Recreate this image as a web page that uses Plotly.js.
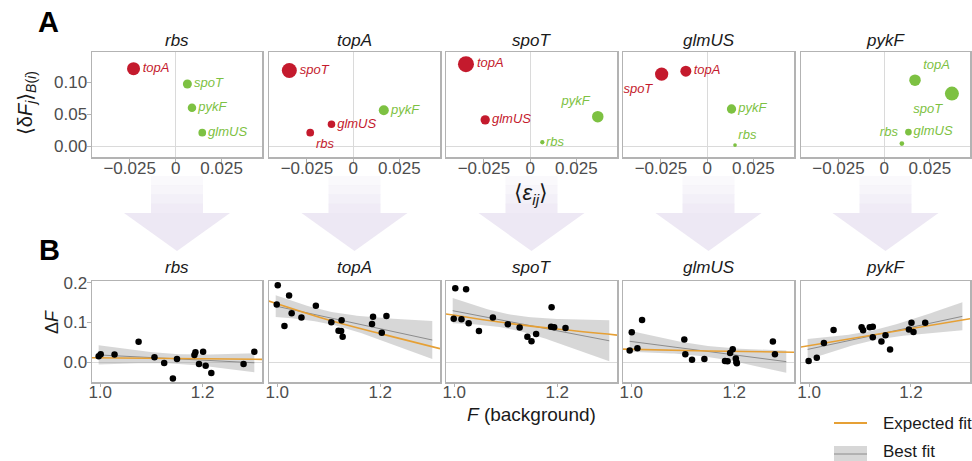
<!DOCTYPE html>
<html><head><meta charset="utf-8">
<script src="https://cdn.plot.ly/plotly-3.0.1.min.js"></script>
<style>body{margin:0;background:#fff}#chart{width:972px;height:461px}</style>
</head><body><div id="chart"></div>
<script>
// ---------------- DATA ----------------
const genes = ['rbs', 'topA', 'spoT', 'glmUS', 'pykF'];

// Panel A: mean epistasis <eps_ij> vs <dF_j>_B(i); w = relative marker magnitude
const A_rbs_lab = ['topA', 'spoT', 'pykF', 'glmUS'];
const A_rbs_eps = [-0.0229, 0.0064, 0.0089, 0.0145];
const A_rbs_dF  = [0.121, 0.097, 0.060, 0.021];
const A_rbs_w   = [0.13, 0.09, 0.085, 0.077];

const A_topA_lab = ['spoT', 'glmUS', 'rbs', 'pykF'];
const A_topA_eps = [-0.0345, -0.0117, -0.0232, 0.0166];
const A_topA_dF  = [0.118, 0.034, 0.021, 0.056];
const A_topA_w   = [0.15, 0.075, 0.077, 0.10];

const A_spoT_lab = ['topA', 'glmUS', 'pykF', 'rbs'];
const A_spoT_eps = [-0.0347, -0.0243, 0.0366, 0.0066];
const A_spoT_dF  = [0.128, 0.041, 0.046, 0.006];
const A_spoT_w   = [0.16, 0.093, 0.115, 0.043];

const A_glmUS_lab = ['spoT', 'topA', 'pykF', 'rbs'];
const A_glmUS_eps = [-0.0246, -0.0115, 0.0132, 0.0151];
const A_glmUS_dF  = [0.1125, 0.117, 0.058, 0.0016];
const A_glmUS_w   = [0.133, 0.11, 0.093, 0.037];

const A_pykF_lab = ['topA', 'spoT', 'glmUS', 'rbs'];
const A_pykF_eps = [0.0169, 0.0371, 0.0133, 0.0097];
const A_pykF_dF  = [0.103, 0.082, 0.022, 0.004];
const A_pykF_w   = [0.115, 0.14, 0.067, 0.047];

// Panel B: F (background) vs dF
const B_rbs_x = [0.997, 1.001, 1.028, 1.075, 1.106, 1.125, 1.142, 1.150, 1.184, 1.186, 1.201, 1.193, 1.206, 1.217, 1.280, 1.301];
const B_rbs_y = [0.015, 0.020, 0.019, 0.051, 0.0125, -0.002, -0.041, 0.008, 0.018, 0.025, 0.026, -0.005, -0.009, -0.0275, -0.005, 0.026];
const B_rbs_expX = [0.984, 1.316];
const B_rbs_expY = [0.011, 0.007];

const B_topA_x = [1.001, 0.999, 1.023, 1.014, 1.028, 1.047, 1.075, 1.105, 1.125, 1.119, 1.124, 1.127, 1.186, 1.184, 1.203, 1.212];
const B_topA_y = [0.193, 0.145, 0.1675, 0.091, 0.123, 0.1125, 0.142, 0.100, 0.105, 0.079, 0.078, 0.064, 0.114, 0.096, 0.074, 0.116];
const B_topA_expX = [0.983, 1.105, 1.202, 1.316];
const B_topA_expY = [0.154, 0.104, 0.071, 0.034];

const B_spoT_x = [1.002, 1.023, 0.999, 1.014, 1.028, 1.048, 1.075, 1.104, 1.127, 1.142, 1.150, 1.159, 1.189, 1.188, 1.194, 1.216];
const B_spoT_y = [0.186, 0.183, 0.109, 0.1075, 0.098, 0.078, 0.1125, 0.095, 0.087, 0.064, 0.0525, 0.071, 0.138, 0.089, 0.088, 0.086];
const B_spoT_expX = [0.984, 1.106, 1.204, 1.316];
const B_spoT_expY = [0.121, 0.0975, 0.0825, 0.068];

const B_glmUS_x = [0.997, 1.001, 1.012, 1.021, 1.103, 1.105, 1.118, 1.142, 1.182, 1.187, 1.192, 1.197, 1.203, 1.204, 1.205, 1.275, 1.279];
const B_glmUS_y = [0.029, 0.075, 0.035, 0.106, 0.057, 0.020, 0.006, 0.008, 0.0025, 0.002, 0.023, 0.0325, 0.009, 0.0, -0.003, 0.052, 0.020];
const B_glmUS_expX = [0.976, 1.15, 1.316];
const B_glmUS_expY = [0.033, 0.028, 0.025];

const B_pykF_x = [0.999, 1.015, 1.029, 1.048, 1.103, 1.106, 1.119, 1.125, 1.125, 1.142, 1.150, 1.159, 1.196, 1.201, 1.205, 1.228];
const B_pykF_y = [0.003, 0.011, 0.048, 0.081, 0.088, 0.080, 0.0875, 0.089, 0.0625, 0.052, 0.0675, 0.032, 0.082, 0.099, 0.076, 0.099];
const B_pykF_expX = [0.979, 1.316];
const B_pykF_expY = [0.037, 0.109];

// ---------------- STYLE ----------------
const W = 972, H = 461;
const FONT = 'Liberation Sans, Arial, DejaVu Sans, sans-serif';
const RED = '#c41a2d', GREEN = '#7dc142', ORANGE = '#e6a035';
const colPx = [[92, 262], [269, 440], [446, 617], [623, 794], [801, 970]];
const rowA = [52, 157], rowB = [281, 382];
const labelPos = [
  ['middle right', 'middle right', 'middle right', 'middle right'],
  ['middle right', 'middle right', 'bottom right', 'middle right'],
  ['middle right', 'middle right', 'top left', 'middle right'],
  ['bottom left', 'middle right', 'middle right', 'top right'],
  ['top right', 'bottom left', 'middle right', 'top left']
];
const px = x => x / W, py = y => 1 - y / H;

const Adata = [
  [A_rbs_lab, A_rbs_eps, A_rbs_dF, A_rbs_w],
  [A_topA_lab, A_topA_eps, A_topA_dF, A_topA_w],
  [A_spoT_lab, A_spoT_eps, A_spoT_dF, A_spoT_w],
  [A_glmUS_lab, A_glmUS_eps, A_glmUS_dF, A_glmUS_w],
  [A_pykF_lab, A_pykF_eps, A_pykF_dF, A_pykF_w]
];
const Bdata = [
  [B_rbs_x, B_rbs_y, B_rbs_expX, B_rbs_expY],
  [B_topA_x, B_topA_y, B_topA_expX, B_topA_expY],
  [B_spoT_x, B_spoT_y, B_spoT_expX, B_spoT_expY],
  [B_glmUS_x, B_glmUS_y, B_glmUS_expX, B_glmUS_expY],
  [B_pykF_x, B_pykF_y, B_pykF_expX, B_pykF_expY]
];

// linear model fit with 95% confidence band (as geom_smooth(method = "lm"))
const tq = {13: 2.160, 14: 2.145, 15: 2.131, 16: 2.120, 17: 2.110};
function lmBand(xs, ys, x0, x1) {
  const n = xs.length;
  const mx = xs.reduce((a, b) => a + b, 0) / n, my = ys.reduce((a, b) => a + b, 0) / n;
  let sxx = 0, sxy = 0;
  for (let i = 0; i < n; i++) { sxx += (xs[i] - mx) ** 2; sxy += (xs[i] - mx) * (ys[i] - my); }
  const b = sxy / sxx, a = my - b * mx;
  let sse = 0;
  for (let i = 0; i < n; i++) sse += (ys[i] - a - b * xs[i]) ** 2;
  const s = Math.sqrt(sse / (n - 2)), t = tq[n - 2] || 2.13;
  const gx = [], fit = [], lo = [], hi = [];
  const m = 60;
  for (let k = 0; k <= m; k++) {
    const x = x0 + (x1 - x0) * k / m;
    const f = a + b * x;
    const se = s * Math.sqrt(1 / n + (x - mx) ** 2 / sxx);
    gx.push(x); fit.push(f); lo.push(f - t * se); hi.push(f + t * se);
  }
  return {gx, fit, lo, hi};
}
const allBx = [].concat(...Bdata.map(d => d[0]));
const bx0 = Math.min(...allBx), bx1 = Math.max(...allBx);

const traces = [];
const layout = {
  width: W, height: H,
  margin: {l: 0, r: 0, t: 0, b: 0},
  paper_bgcolor: '#fff', plot_bgcolor: 'rgba(0,0,0,0)',
  showlegend: false,
  font: {family: FONT, color: '#4d4d4d'},
  annotations: [], shapes: []
};

function axBase() {
  return {
    showline: true, mirror: true, linecolor: '#b3b3b3', linewidth: 1.5,
    showgrid: false, ticks: 'outside', ticklen: 4, tickwidth: 1, tickcolor: '#b3b3b3',
    tickfont: {family: FONT, size: 17, color: '#4d4d4d'},
    zerolinecolor: '#dadada', zerolinewidth: 1.2, fixedrange: true
  };
}
function note(x, y, text, size, extra) {
  return Object.assign({xref: 'paper', yref: 'paper', x: px(x), y: py(y), text: text, showarrow: false,
    xanchor: 'center', yanchor: 'middle', font: {family: FONT, size: size, color: '#1a1a1a'}}, extra || {});
}

for (let k = 0; k < 5; k++) {
  // ----- Panel A -----
  const ia = k + 1, ib = k + 6;
  const sa = ia === 1 ? '' : String(ia);
  const [lab, eps, dF, w] = Adata[k];
  layout['xaxis' + sa] = Object.assign(axBase(), {
    domain: [px(colPx[k][0]), px(colPx[k][1])], anchor: 'y' + sa,
    range: [-0.0455, 0.047], tickvals: [-0.025, 0, 0.025], ticktext: ['\u22120.025', '0', '0.025'],
    zeroline: true, ticklabelstandoff: -9
  });
  layout['yaxis' + sa] = Object.assign(axBase(), {
    domain: [py(rowA[1]), py(rowA[0])], anchor: 'x' + sa,
    range: [-0.017, 0.147], tickvals: [0, 0.05, 0.1], ticktext: ['0.00', '0.05', '0.10'],
    zeroline: true, showticklabels: k === 0, ticks: k === 0 ? 'outside' : '', ticklabelstandoff: -4
  });
  const cols = eps.map(e => e < 0 ? RED : GREEN);
  traces.push({
    type: 'scatter', mode: 'markers+text',
    xaxis: 'x' + sa, yaxis: 'y' + sa,
    x: eps, y: dF, text: lab.map(s => '<i>' + s + '</i>'),
    textposition: labelPos[k], cliponaxis: false,
    textfont: {family: FONT, size: 13, color: cols},
    marker: {size: w, sizemode: 'diameter', sizeref: 0.01, color: cols, opacity: 1, line: {width: 0}},
    hoverinfo: 'skip'
  });

  // ----- Panel B -----
  const [bx, by, ex, ey] = Bdata[k];
  layout['xaxis' + ib] = Object.assign(axBase(), {
    domain: [px(colPx[k][0]), px(colPx[k][1])], anchor: 'y' + ib,
    range: [0.984, 1.316], tickvals: [1.0, 1.2], ticktext: ['1.0', '1.2'], zeroline: false,
    ticklen: 3, ticklabelstandoff: -9
  });
  layout['yaxis' + ib] = Object.assign(axBase(), {
    domain: [py(rowB[1]), py(rowB[0])], anchor: 'x' + ib,
    range: [-0.05, 0.204], tickvals: [0, 0.1, 0.2], ticktext: ['0.0', '0.1', '0.2'],
    zeroline: true, showticklabels: k === 0, ticks: k === 0 ? 'outside' : '', ticklabelstandoff: -4
  });
  const band = lmBand(bx, by, bx0, bx1);
  traces.push({
    type: 'scatter', mode: 'lines', xaxis: 'x' + ib, yaxis: 'y' + ib,
    x: band.gx.concat(band.gx.slice().reverse()),
    y: band.hi.concat(band.lo.slice().reverse()),
    fill: 'toself', fillcolor: 'rgba(150,150,150,0.38)', line: {width: 0}, hoverinfo: 'skip'
  });
  traces.push({
    type: 'scatter', mode: 'lines', xaxis: 'x' + ib, yaxis: 'y' + ib,
    x: band.gx, y: band.fit, line: {color: '#8c8c8c', width: 1}, hoverinfo: 'skip'
  });
  traces.push({
    type: 'scatter', mode: 'lines', xaxis: 'x' + ib, yaxis: 'y' + ib,
    x: ex, y: ey, line: {color: ORANGE, width: 1.6, shape: 'spline'}, hoverinfo: 'skip'
  });
  traces.push({
    type: 'scatter', mode: 'markers', xaxis: 'x' + ib, yaxis: 'y' + ib,
    x: bx, y: by, marker: {size: 6.5, color: '#000'}, hoverinfo: 'skip'
  });

  // panel titles
  const cx = (colPx[k][0] + colPx[k][1]) / 2;
  layout.annotations.push(note(cx, 41, '<i>' + genes[k] + '</i>', 17));
  layout.annotations.push(note(cx, 267, '<i>' + genes[k] + '</i>', 17));

  // arrows between panels
  const top = 176, neck = 213, tip = 251, sh = 26, hh = 53;
  const steps = [0.25, 0.45, 0.65, 0.85];
  const segH = (neck - top) / steps.length;
  steps.forEach((op, i) => {
    layout.shapes.push({type: 'rect', xref: 'paper', yref: 'paper', layer: 'below',
      x0: px(cx - sh), x1: px(cx + sh), y0: py(top + segH * (i + 1) + 0.5), y1: py(top + segH * i),
      fillcolor: '#ede8f4', opacity: op, line: {width: 0}});
  });
  layout.shapes.push({type: 'path', xref: 'paper', yref: 'paper', layer: 'below',
    path: `M ${px(cx - hh)} ${py(neck)} L ${px(cx + hh)} ${py(neck)} L ${px(cx)} ${py(tip)} Z`,
    fillcolor: '#ede8f4', line: {width: 0}});
}

// axis titles and panel letters
const ann = layout.annotations;
ann.push(note(48, 22, '<b>A</b>', 29, {font: {family: FONT, size: 29, color: '#000'}}));
ann.push(note(49, 250, '<b>B</b>', 29, {font: {family: FONT, size: 29, color: '#000'}}));
ann.push(note(26, 103, '\u27E8\u03B4<i>F</i><sub><i>j</i></sub>\u27E9<sub><i>B</i>(<i>i</i>)</sub>', 20, {textangle: -90}));
ann.push(note(531, 194, '\u27E8<i>\u03B5</i><sub><i>ij</i></sub>\u27E9', 22));
ann.push(note(531, 414, '<i>F</i> (background)', 19));
ann.push(note(52, 322, '\u0394<i>F</i>', 18, {textangle: -90}));

// legend
layout.shapes.push({type: 'line', xref: 'paper', yref: 'paper', x0: px(834), x1: px(867), y0: py(423), y1: py(423),
  line: {color: ORANGE, width: 2}});
layout.shapes.push({type: 'rect', xref: 'paper', yref: 'paper', x0: px(834), x1: px(867), y0: py(461), y1: py(446),
  fillcolor: 'rgba(150,150,150,0.38)', line: {width: 0}});
layout.shapes.push({type: 'line', xref: 'paper', yref: 'paper', x0: px(834), x1: px(867), y0: py(454), y1: py(454),
  line: {color: '#8c8c8c', width: 1}});
ann.push(note(881, 423, 'Expected fit', 17, {xanchor: 'left'}));
ann.push(note(881, 451, 'Best fit', 17, {xanchor: 'left'}));

Plotly.newPlot('chart', traces, layout, {staticPlot: true});
</script>
</body></html>
